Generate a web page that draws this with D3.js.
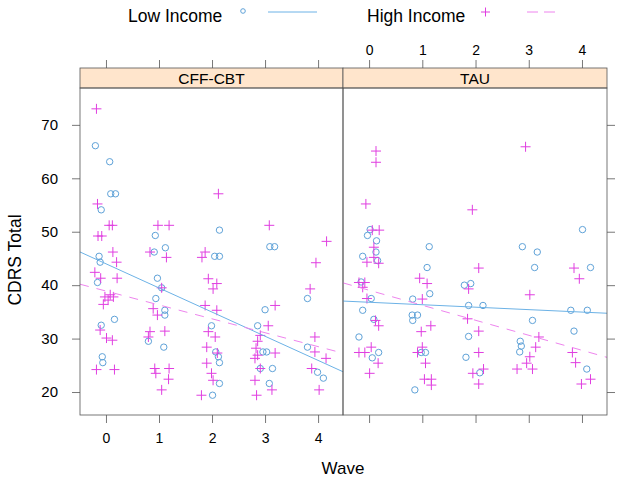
<!DOCTYPE html>
<html><head><meta charset="utf-8">
<script src="https://cdn.jsdelivr.net/npm/d3@7"></script>
<style>body{margin:0;background:#fff}svg{display:block;font-family:"Liberation Sans",Arial,sans-serif}</style>
</head><body><svg id="c" width="622" height="485"></svg>
<script>
const panels = ["CFF-CBT", "TAU"];
const seriesNames = ["Low Income", "High Income"];
const xTicks = [0, 1, 2, 3, 4];
const yTicks = [20, 30, 40, 50, 60, 70];

// CFF-CBT, Low Income (jittered wave, score)
const cffLowWave  = [-0.2,0.07,0.09,0.18,-0.09,-0.13,-0.11,-0.16,-0.09,0.16,-0.07,-0.06,
  0.93,1.12,0.91,0.97,1.05,0.94,1.11,1.11,0.8,1.09,
  2.14,2.05,2.14,1.99,2.07,2.12,2.14,2.14,2.01,
  3.09,3.18,3.0,2.86,2.96,3.03,2.91,3.14,3.08,
  3.8,3.8,3.99,4.1];
const cffLowScore = [66.1,63.1,57.1,57.1,54.1,45.4,44.3,40.5,32.5,33.6,26.6,25.5,
  49.3,47.0,46.2,41.3,39.5,37.5,35.3,34.4,29.5,28.4,
  50.3,45.4,45.4,32.4,27.5,26.6,25.5,21.6,19.4,
  47.2,47.2,35.4,32.4,27.5,27.5,24.4,24.4,21.6,
  37.5,28.4,23.7,22.6];
// CFF-CBT, High Income
const cffHighWave  = [-0.18,-0.16,0.06,0.12,-0.15,-0.08,0.13,0.2,-0.21,-0.1,0.21,-0.02,0.08,0.14,0.04,-0.05,-0.11,0.01,0.12,-0.18,0.16,
  0.98,1.19,0.83,1.14,1.05,0.89,0.97,0.83,0.8,1.11,0.92,0.94,1.19,1.18,1.05,
  2.12,1.87,1.81,1.93,2.09,2.02,1.87,2.09,1.93,2.06,1.9,2.1,1.9,1.99,2.02,1.8,
  3.08,3.19,3.06,2.91,2.86,2.83,2.86,3.19,2.81,2.91,2.81,3.13,2.84,
  4.16,3.96,3.85,3.94,3.94,4.15,3.88,4.02];
const cffHighScore = [73.0,55.2,51.2,51.2,49.2,49.2,46.2,44.3,42.4,41.3,41.3,37.8,38.2,37.8,37.2,36.4,31.6,30.1,29.7,24.2,24.2,
  51.2,51.2,46.2,45.2,39.5,35.6,34.4,31.3,30.3,31.4,24.4,23.5,24.4,22.4,20.4,
  57.1,46.2,45.2,41.2,40.3,39.3,36.2,35.3,31.3,30.3,28.4,27.3,25.4,23.5,22.2,19.4,
  51.2,36.2,32.4,30.6,29.5,28.2,26.9,27.3,26.3,24.4,22.2,20.4,19.4,
  48.2,44.2,39.3,30.3,27.5,26.3,24.4,20.4];
// TAU, Low Income
const tauLowWave  = [0.02,-0.03,0.14,0.13,-0.12,0.16,-0.15,0.04,-0.12,0.09,-0.19,0.18,0.06,
  1.13,1.09,1.14,0.82,0.81,0.91,0.82,0.98,1.06,0.86,
  1.79,1.91,1.87,2.14,1.87,1.82,2.08,
  2.88,3.16,3.11,3.07,2.84,2.86,2.83,
  4.01,4.16,3.79,4.1,3.85,4.09];
const tauLowScore = [50.4,49.3,48.3,46.2,45.4,44.6,40.6,37.5,35.3,33.6,30.3,27.4,26.4,
  47.2,43.3,38.4,37.4,34.4,34.4,33.4,27.4,27.4,20.4,
  40.0,40.3,36.2,36.2,30.4,26.5,23.6,
  47.2,46.2,43.3,33.4,29.5,28.6,27.5,
  50.4,43.3,35.3,35.3,31.4,24.3];
// TAU, High Income
const tauHighWave  = [0.13,0.13,-0.06,0.06,0.19,0.09,0.09,-0.04,0.18,-0.19,-0.08,-0.12,-0.04,0.12,0.18,0.04,-0.19,-0.08,0.17,0.01,
  0.95,1.09,1.0,1.16,0.98,1.0,0.91,1.06,1.04,1.17,1.17,
  1.94,2.06,1.87,1.85,2.06,2.06,2.15,1.95,2.06,
  2.94,3.02,3.19,3.13,3.02,2.96,2.78,3.07,
  3.85,3.95,3.82,3.88,4.16,3.99];
const tauHighScore = [65.1,63.0,55.2,50.3,50.3,47.1,45.2,44.3,44.1,40.5,40.5,39.6,37.5,33.4,32.4,28.4,27.4,27.4,25.4,23.5,
  41.3,40.3,37.4,32.4,31.3,28.4,27.4,25.4,22.4,22.4,21.3,
  54.1,43.2,39.3,33.7,31.4,27.4,24.3,23.5,21.5,
  65.9,38.2,30.3,28.4,26.6,25.4,24.3,24.3,
  43.2,41.2,27.4,25.5,22.4,21.5];
// regression lines: [intercept, slope] per panel
const lowFit  = [[44.0, -4.52], [36.8, -0.46]];
const highFit = [[38.9, -2.60], [39.05, -2.81]];

const data = [
  {low: d3.zip(cffLowWave, cffLowScore), high: d3.zip(cffHighWave, cffHighScore)},
  {low: d3.zip(tauLowWave, tauLowScore), high: d3.zip(tauHighWave, tauHighScore)}
];

const blue = "#5fa2d8", blueLine = "#6cb2e6", pink = "#e03ee0", pinkLine = "#ee84ee", grid = "#555";
const svg = d3.select("#c");
const pTop = 88, pBottom = 415;
const panelX = [[80, 343], [343, 607]];
const y = d3.scaleLinear().domain([15.7, 76.9]).range([pBottom, pTop]);
const xDomain = [-0.49, 4.47];
const fmt = d3.format("d");

panels.forEach((name, i) => {
  const x = d3.scaleLinear().domain(xDomain).range(panelX[i]);
  const g = svg.append("g");
  g.append("rect").attr("x", panelX[i][0]).attr("y", 68).attr("width", panelX[i][1]-panelX[i][0]).attr("height", pTop-68)
    .attr("fill", "#ffe5cc").attr("stroke", grid).attr("stroke-width", 0.8);
  g.append("text").attr("x", (panelX[i][0]+panelX[i][1])/2).attr("y", 84).attr("text-anchor", "middle")
    .attr("font-size", 15.5).attr("fill", "#000").text(name);
  const cid = "clip" + i;
  svg.append("clipPath").attr("id", cid).append("rect").attr("x", panelX[i][0]).attr("y", pTop)
    .attr("width", panelX[i][1]-panelX[i][0]).attr("height", pBottom-pTop);
  const pg = g.append("g").attr("clip-path", `url(#${cid})`);
  pg.selectAll("circle.lo").data(data[i].low).join("circle")
    .attr("cx", d => x(d[0])).attr("cy", d => y(d[1])).attr("r", 3.2)
    .attr("fill", "none").attr("stroke", blue).attr("stroke-width", 1);
  pg.selectAll("path.hi").data(data[i].high).join("path")
    .attr("d", d => { const px = x(d[0]), py = y(d[1]), s = 5;
      return `M${px-s},${py}H${px+s}M${px},${py-s}V${py+s}`; })
    .attr("stroke", pink).attr("stroke-width", 1).attr("fill", "none");
  const fitPath = f => `M${x(xDomain[0])},${y(f[0]+f[1]*xDomain[0])}L${x(xDomain[1])},${y(f[0]+f[1]*xDomain[1])}`;
  pg.append("path").attr("d", fitPath(lowFit[i])).attr("stroke", blueLine).attr("stroke-width", 1).attr("fill", "none");
  pg.append("path").attr("d", fitPath(highFit[i])).attr("stroke", pinkLine).attr("stroke-width", 1)
    .attr("stroke-dasharray", "9,8").attr("fill", "none");
  g.append("rect").attr("x", panelX[i][0]).attr("y", pTop).attr("width", panelX[i][1]-panelX[i][0]).attr("height", pBottom-pTop)
    .attr("fill", "none").attr("stroke", grid).attr("stroke-width", 0.8);
  const ax = svg.append("g").attr("transform", `translate(0,${pBottom})`)
    .call(d3.axisBottom(x).tickValues(xTicks).tickFormat(fmt).tickSize(8).tickPadding(10).tickSizeOuter(0));
  const at = svg.append("g").attr("transform", `translate(0,68)`)
    .call(d3.axisTop(x).tickValues(xTicks).tickFormat(fmt).tickSize(8).tickPadding(5).tickSizeOuter(0));
  if (i === 0) { at.selectAll("text").remove(); }
  else { ax.selectAll("text").remove(); }
  [ax, at].forEach(a => {
    a.select(".domain").remove();
    a.selectAll("line").attr("stroke", grid).attr("stroke-width", 0.8);
    a.selectAll("text").attr("font-size", 14).attr("fill", "#000").attr("font-family", "Liberation Sans, Arial, sans-serif");
  });
});

const ay = svg.append("g").attr("transform", "translate(80,0)")
  .call(d3.axisLeft(y).tickValues(yTicks).tickFormat(fmt).tickSize(8).tickPadding(14).tickSizeOuter(0));
const ayr = svg.append("g").attr("transform", "translate(607,0)")
  .call(d3.axisRight(y).tickValues(yTicks).tickSize(8).tickSizeOuter(0));
ayr.selectAll("text").remove();
[ay, ayr].forEach(a => {
  a.select(".domain").remove();
  a.selectAll("line").attr("stroke", grid).attr("stroke-width", 0.8);
  a.selectAll("text").attr("font-size", 15).attr("fill", "#000").attr("font-family", "Liberation Sans, Arial, sans-serif");
});

svg.append("text").attr("x", 343).attr("y", 474).attr("text-anchor", "middle").attr("font-size", 17).text("Wave");
svg.append("text").attr("transform", "translate(21,260) rotate(-90)").attr("text-anchor", "middle")
  .attr("font-size", 17.5).text("CDRS Total");

const leg = svg.append("g");
leg.append("text").attr("x", 128).attr("y", 21.5).attr("font-size", 17.5).text(seriesNames[0]);
leg.append("circle").attr("cx", 243).attr("cy", 11).attr("r", 2.3).attr("fill", "none").attr("stroke", blue);
leg.append("line").attr("x1", 268).attr("x2", 317).attr("y1", 12).attr("y2", 12).attr("stroke", blueLine);
leg.append("text").attr("x", 367).attr("y", 21.5).attr("font-size", 17.5).text(seriesNames[1]);
leg.append("path").attr("d", "M481,12H490M485.5,7.5V16.5").attr("stroke", pink).attr("fill", "none");
leg.append("line").attr("x1", 527).attr("x2", 555).attr("y1", 12).attr("y2", 12).attr("stroke", pinkLine)
  .attr("stroke-dasharray", "11,6");
</script></body></html>
